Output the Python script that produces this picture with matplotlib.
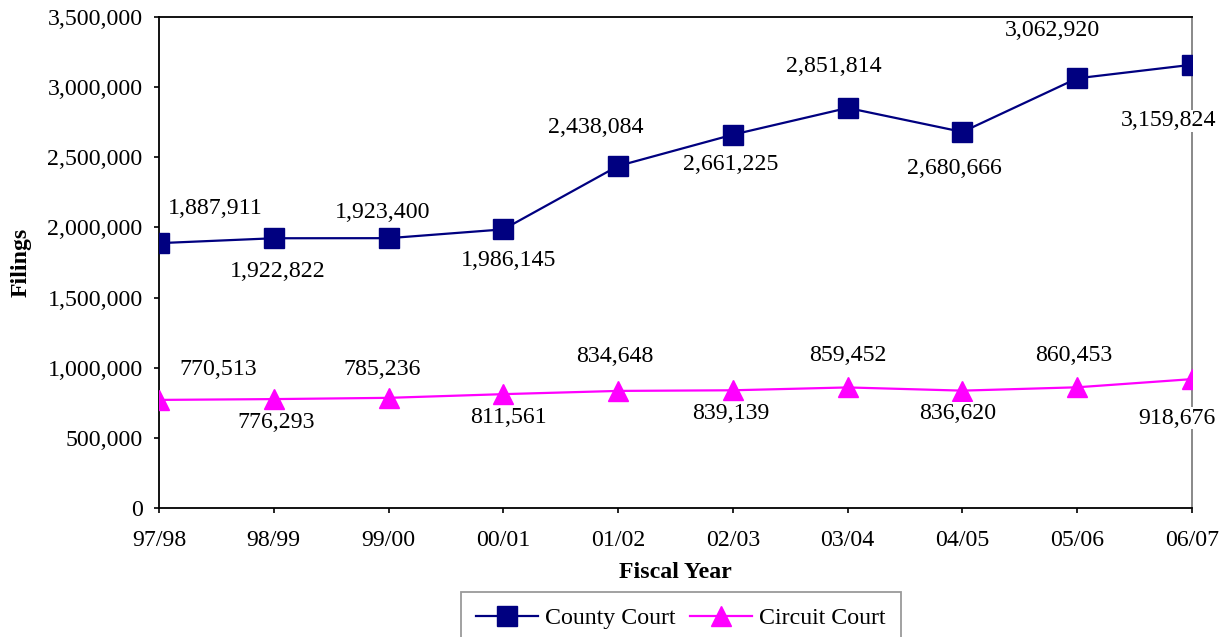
import matplotlib.pyplot as plt
from matplotlib.ticker import FuncFormatter

plt.rcParams['font.family'] = ['Liberation Serif', 'DejaVu Serif']

years = ['97/98', '98/99', '99/00', '00/01', '01/02', '02/03', '03/04', '04/05', '05/06', '06/07']
county = [1887911, 1922822, 1923400, 1986145, 2438084, 2661225, 2851814, 2680666, 3062920, 3159824]
circuit = [770513, 776293, 785236, 811561, 834648, 839139, 859452, 836620, 860453, 918676]

# label offsets in pixels (alternating above / below)
county_off = [(56, 35), (4, -33), (-6, 26), (5, -31), (-22, 38), (-2, -30), (-14, 41), (-8, -37), (-25, 48), (-23, -56)]
circuit_off = [(59, 30), (2, -23), (-6, 28), (5, -23), (-3, 34), (-2, -23), (0, 32), (-5, -23), (-3, 32), (-15, -39)]

FS = 17.2

fig = plt.figure(figsize=(12.28, 6.37), dpi=100)
ax = fig.add_axes([159 / 1228, 1 - 508 / 637, (1192 - 159) / 1228, (508 - 17) / 637])

x = list(range(len(years)))
ax.plot(x, county, color='#000080', lw=1.6, marker='s', ms=14, label='County Court', zorder=3)
ax.plot(x, circuit, color='#ff00ff', lw=1.6, marker='^', ms=15, label='Circuit Court', zorder=3)

for i in x:
    ax.annotate(f'{county[i]:,}', xy=(i, county[i]), xytext=county_off[i], textcoords='offset pixels',
                ha='center', va='center', fontsize=FS, zorder=5,
                bbox=dict(facecolor='white', edgecolor='none', pad=0.5), annotation_clip=False)
    ax.annotate(f'{circuit[i]:,}', xy=(i, circuit[i]), xytext=circuit_off[i], textcoords='offset pixels',
                ha='center', va='center', fontsize=FS, zorder=5,
                bbox=dict(facecolor='white', edgecolor='none', pad=0.5), annotation_clip=False)

ax.set_xlim(0, 9)
ax.set_ylim(0, 3500000)
ax.set_yticks(range(0, 3500001, 500000))
ax.yaxis.set_major_formatter(FuncFormatter(lambda v, p: f'{int(v):,}'))
ax.set_xticks(x)
ax.set_xticklabels(years)
ax.tick_params(axis='both', labelsize=FS, direction='out', length=3.8, width=1.2)
ax.tick_params(axis='y', pad=8)
ax.tick_params(axis='x', pad=12)

for s in ['left', 'bottom', 'top']:
    ax.spines[s].set_color('black')
    ax.spines[s].set_linewidth(1.3)
ax.spines['right'].set_color('#808080')
ax.spines['right'].set_linewidth(1.3)

ax.set_xlabel('Fiscal Year', fontsize=FS, fontweight='bold', labelpad=8)
ax.set_ylabel('Filings', fontsize=FS, fontweight='bold', labelpad=11)

leg = fig.legend(loc='upper center', bbox_to_anchor=(681 / 1228, 1 - 592 / 637), ncol=2,
                 fontsize=FS, frameon=True, fancybox=False, edgecolor='#808080',
                 handlelength=2.6, columnspacing=0.6, handletextpad=0.3, borderpad=0.65,
                 borderaxespad=0)
leg.get_frame().set_linewidth(1.3)

plt.savefig('out.png', dpi=100)
